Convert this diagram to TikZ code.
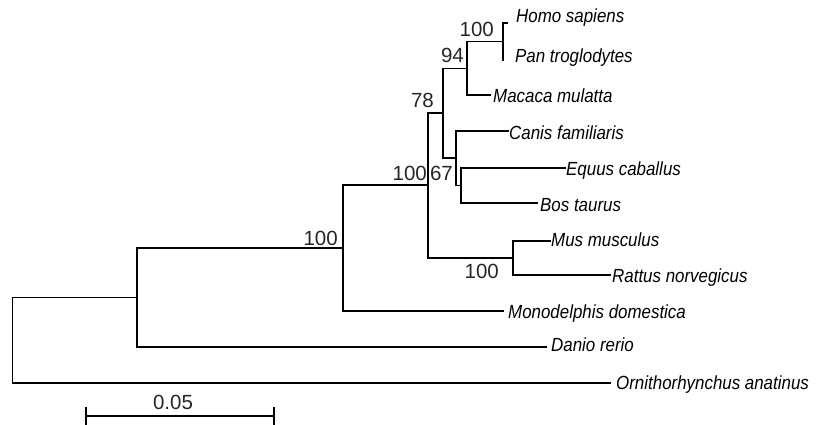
\documentclass[tikz,border=0pt]{standalone}
\usepackage{fontspec}
\setmainfont{Liberation Sans}
\newfontfamily\tipfont[FakeStretch=0.89]{Liberation Sans}
\begin{document}
\begin{tikzpicture}[x=1pt,y=-1pt,
  branch/.style={line width=1.3pt, line cap=rect},
  tip/.style={font=\tipfont\itshape\fontsize{19}{22}\selectfont, anchor=base west, inner sep=0pt},
  boot/.style={font=\fontsize{20.5}{22}\selectfont, anchor=base east, inner sep=0pt, text=black!85}]
\useasboundingbox (0,0) rectangle (816,425);
% tip ends
\coordinate (hs) at (507,23);
\coordinate (pt) at (503,60);
\coordinate (mm) at (490,95);
\coordinate (cf) at (508,131);
\coordinate (ec) at (565,168);
\coordinate (bt) at (537,203);
\coordinate (mu) at (550,241);
\coordinate (rn) at (610,275);
\coordinate (md) at (503,311);
\coordinate (dr) at (546,347);
\coordinate (oa) at (610,383);
% internal nodes
\coordinate (nHP) at (503,41.5);
\coordinate (n94) at (467,68.5);
\coordinate (nEB) at (461,185.5);
\coordinate (n67) at (456,158);
\coordinate (n78) at (443,113);
\coordinate (nMR) at (513,258);
\coordinate (nPl) at (428,185);
\coordinate (nTh) at (343,248);
\coordinate (nDa) at (137,297.5);
\coordinate (root) at (12.2,340);
% branches
\draw[branch] (nHP) |- (hs);
\draw[branch] (nHP) |- (pt);
\draw[branch] (n94) |- (nHP);
\draw[branch] (n94) |- (mm);
\draw[branch] (nEB) |- (ec);
\draw[branch] (nEB) |- (bt);
\draw[branch] (n67) |- (cf);
\draw[branch] (n67) |- (nEB);
\draw[branch] (n78) |- (n94);
\draw[branch] (n78) |- (n67);
\draw[branch] (nMR) |- (mu);
\draw[branch] (nMR) |- (rn);
\draw[branch] (nPl) |- (n78);
\draw[branch] (nPl) |- (nMR);
\draw[branch] (nTh) |- (nPl);
\draw[branch] (nTh) |- (md);
\draw[branch] (nDa) |- (nTh);
\draw[branch] (nDa) |- (dr);
\draw[branch] (root) |- (nDa);
\draw[branch] (root) |- (oa);
% tip labels
\node[tip] (ths) at (516,23) {Homo sapiens};
\node[tip] (tpt) at (515,63) {Pan troglodytes};
\node[tip] (tmm) at (493,103) {Macaca mulatta};
\node[tip] (tcf) at (509,139.5) {Canis familiaris};
\node[tip] (tec) at (566,175.5) {Equus caballus};
\node[tip] (tbt) at (540,211) {Bos taurus};
\node[tip] (tmu) at (551,246.5) {Mus musculus};
\node[tip] (trn) at (612,282) {Rattus norvegicus};
\node[tip] (tmd) at (508,318.5) {Monodelphis domestica};
\node[tip] (tdr) at (551,351.5) {Danio rerio};
\node[tip] (toa) at (616,389) {Ornithorhynchus anatinus};
% bootstrap values
\node[boot] (b1) at (494,37) {100};
\node[boot] (b2) at (464,63) {94};
\node[boot] (b3) at (434,108) {78};
\node[boot] (b4) at (427,180) {100};
\node[boot] (b5) at (453,180) {67};
\node[boot] (b6) at (499,278) {100};
\node[boot] (b7) at (338,245) {100};
% scale bar
\coordinate (sL) at (86,416);
\coordinate (sR) at (274,416);
\draw[branch] (sL) -- (sR);
\draw[branch] ([yshift=-8pt]sL) -- ([yshift=8pt]sL);
\draw[branch] ([yshift=-8pt]sR) -- ([yshift=8pt]sR);
\node[font=\fontsize{20.5}{22}\selectfont, anchor=base, inner sep=0pt, text=black!85] (sc) at (173,409) {0.05};
\end{tikzpicture}
\end{document}
